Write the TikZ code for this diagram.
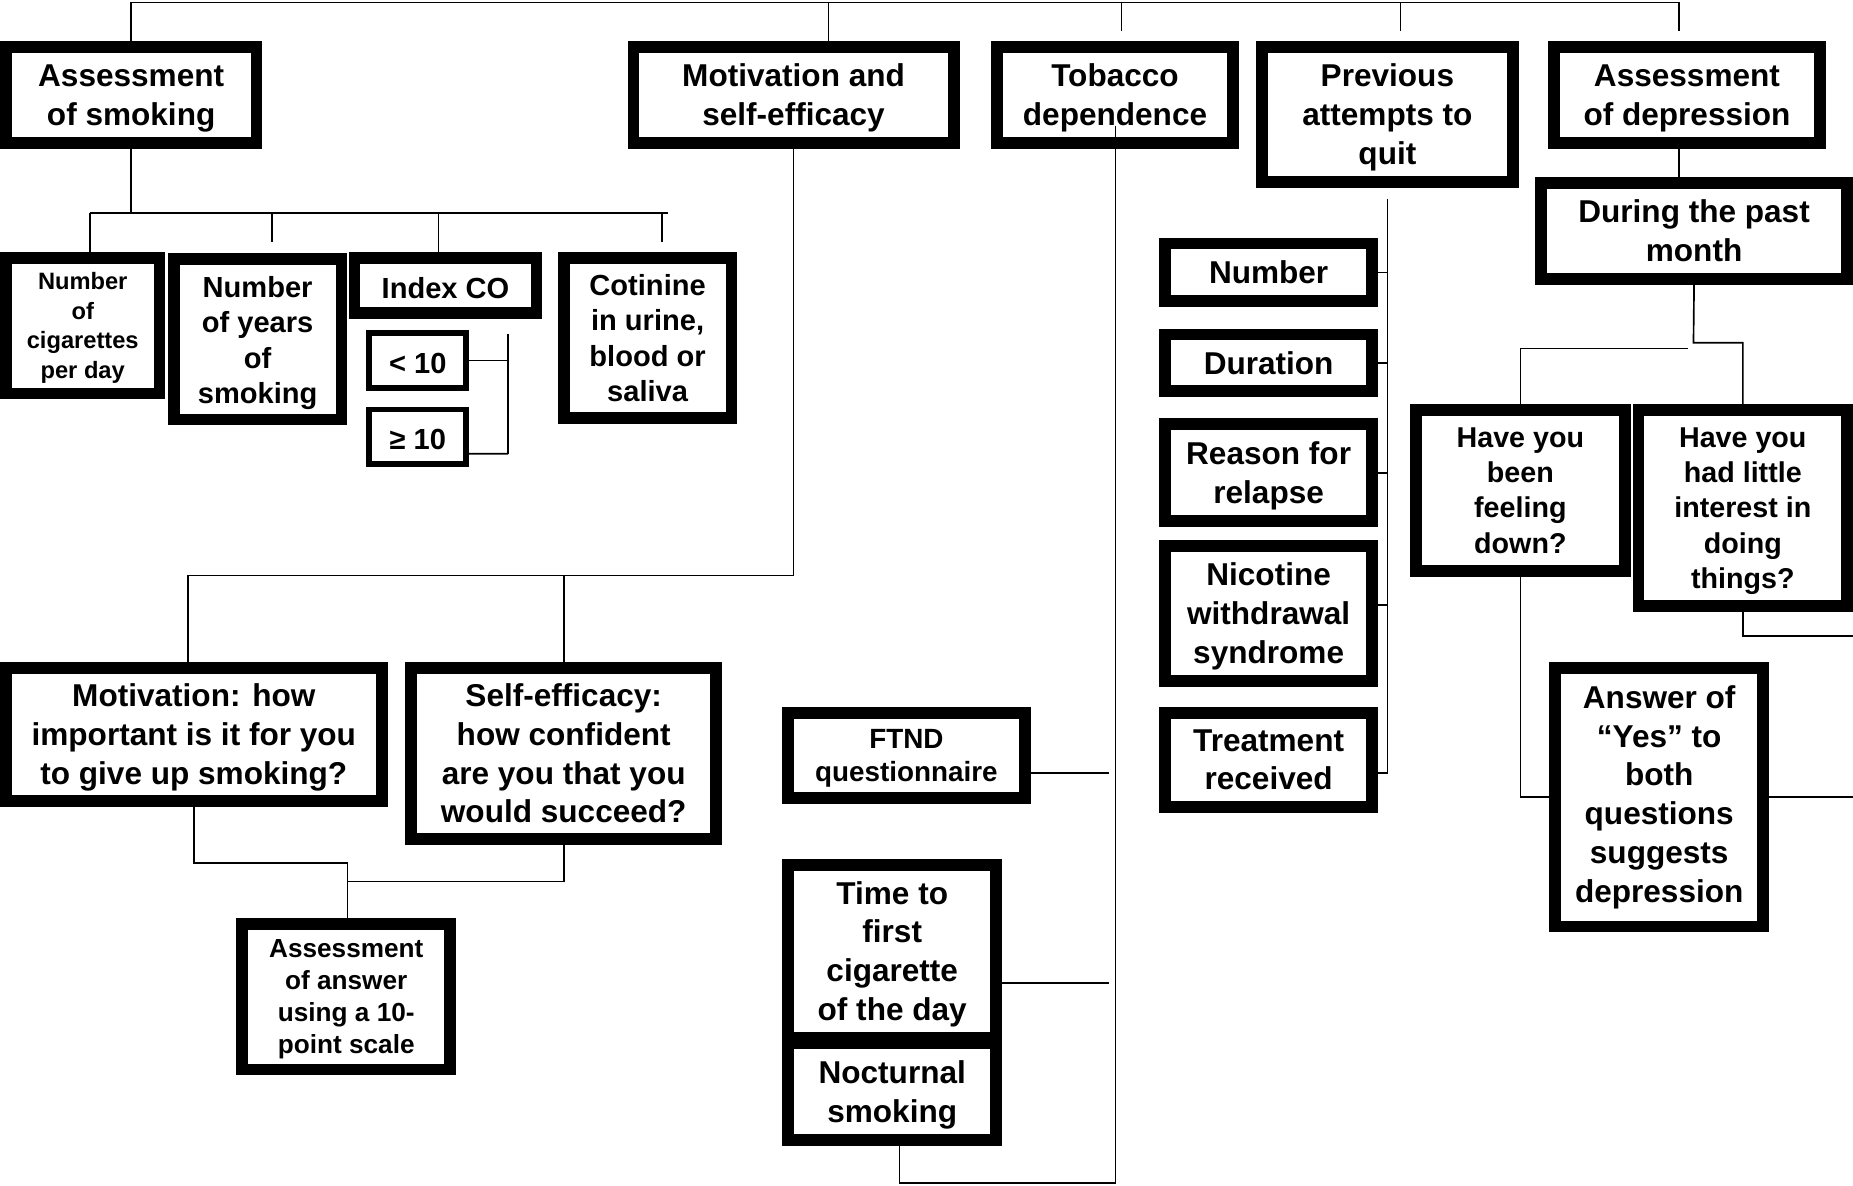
\documentclass[tikz,border=0pt]{standalone}
\usepackage{fontspec}
\setmainfont{Liberation Sans}
\usepackage{tikz}

% strut that gives the first line the full ascent of the font
\newcommand{\capstrut}[1][0.905em]{\rule{0pt}{#1}}

\begin{document}
\begin{tikzpicture}[
    every node/.style={align=center, inner sep=0pt, font=\bfseries\fontsize{7.6}{9.35}\selectfont},
    box/.style={draw, fill=white, line width=#1},
    box/.default=0.1cm,
    link/.style={line width=0.4pt}
]

\useasboundingbox (0,0) rectangle (15.68,-10.03);

% Top row of assessment topics
\node[box, minimum width=2.12cm, minimum height=0.81cm] (smoking) at (1.11,-0.805) {\capstrut Assessment\\of smoking};
\node[box, minimum width=2.71cm, minimum height=0.81cm] (motiv) at (6.715,-0.805) {\capstrut Motivation and\\self-efficacy};
\node[box, minimum width=2.00cm, minimum height=0.81cm] (tobacco) at (9.435,-0.805) {\capstrut Tobacco\\dependence};
\node[box, minimum width=2.12cm, minimum height=1.14cm] (previous) at (11.74,-0.97) {\capstrut Previous\\attempts to\\quit};
\node[box, minimum width=2.25cm, minimum height=0.81cm] (depression) at (14.275,-0.805) {\capstrut Assessment\\of depression};

% Smoking measures
\node[box, minimum width=1.30cm, minimum height=1.15cm, font=\bfseries\fontsize{5.7}{7.1}\selectfont] (cigs) at (0.70,-2.755) {\capstrut Number\\of\\cigarettes\\per day};
\node[box, minimum width=1.42cm, minimum height=1.36cm, font=\bfseries\fontsize{7}{8.5}\selectfont] (years) at (2.18,-2.87) {\capstrut[1em]Number\\of years\\of\\smoking};
\node[box, minimum width=1.54cm, minimum height=0.47cm, font=\bfseries\fontsize{7}{8.5}\selectfont] (indexco) at (3.77,-2.415) {\capstrut Index CO};
\node[box=0.05cm, minimum width=0.82cm, minimum height=0.47cm, font=\bfseries\fontsize{7}{8.5}\selectfont] (lt10) at (3.535,-3.05) {\capstrut< 10};
\node[box=0.05cm, minimum width=0.82cm, minimum height=0.46cm, font=\bfseries\fontsize{7}{8.5}\selectfont] (ge10) at (3.535,-3.695) {\capstrut≥ 10};
\node[box, minimum width=1.42cm, minimum height=1.36cm, font=\bfseries\fontsize{7}{8.5}\selectfont] (cotinine) at (5.48,-2.86) {Cotinine\\in urine,\\blood or\\saliva};

% Motivation and self-efficacy questions
\node[box, minimum width=3.18cm, minimum height=1.13cm] (importance) at (1.64,-6.215) {\capstrut Motivation: how\\important is it for you\\to give up smoking?};
\node[box, minimum width=2.58cm, minimum height=1.45cm] (efficacy) at (4.77,-6.375) {Self-efficacy:\\how confident\\are you that you\\would succeed?};
\node[box, minimum width=1.76cm, minimum height=1.23cm, font=\bfseries\fontsize{6.3}{7.7}\selectfont] (scale) at (2.93,-8.435) {\capstrut Assessment\\of answer\\using a 10-\\point scale};

% Tobacco dependence measures
\node[box, minimum width=2.00cm, minimum height=0.72cm, font=\bfseries\fontsize{6.7}{8}\selectfont] (ftnd) at (7.67,-6.39) {\capstrut FTND\\questionnaire};
\node[box, minimum width=1.76cm, minimum height=1.46cm] (firstcig) at (7.55,-8.05) {\capstrut Time to\\first\\cigarette\\of the day};
\node[box, minimum width=1.76cm, minimum height=0.82cm] (nocturnal) at (7.55,-9.24) {\capstrut Nocturnal\\smoking};

% Previous quit attempts
\node[box, minimum width=1.75cm, minimum height=0.49cm] (number) at (10.735,-2.305) {Number};
\node[box, minimum width=1.75cm, minimum height=0.48cm] (duration) at (10.735,-3.07) {Duration};
\node[box, minimum width=1.75cm, minimum height=0.82cm] (relapse) at (10.735,-4.00) {\capstrut Reason for\\relapse};
\node[box, minimum width=1.75cm, minimum height=1.14cm] (withdrawal) at (10.735,-5.19) {\capstrut Nicotine\\withdrawal\\syndrome};
\node[box, minimum width=1.75cm, minimum height=0.80cm] (treatment) at (10.735,-6.43) {Treatment\\received};

% Depression screening
\node[box, minimum width=2.59cm, minimum height=0.81cm] (during) at (14.335,-1.955) {During the past\\month};
\node[box, minimum width=1.77cm, minimum height=1.36cm, font=\bfseries\fontsize{6.9}{8.5}\selectfont] (feeling) at (12.865,-4.15) {Have you\\been\\feeling\\down?};
\node[box, minimum width=1.765cm, minimum height=1.656cm, font=\bfseries\fontsize{6.9}{8.5}\selectfont] (interest) at (14.7475,-4.298) {\capstrut Have you\\had little\\interest in\\doing\\things?};
\node[box, minimum width=1.76cm, minimum height=2.19cm] (answer) at (14.04,-6.745) {Answer of\\``Yes'' to\\both\\questions\\suggests\\depression};

% Top bar
\foreach \name/\x in {smoking/1.11, motiv/7.01, tobacco/9.49, previous/11.85, depression/14.21}
    \coordinate (top-\name) at (\x,-0.02);
\draw[link] (top-smoking) -- (top-depression);
\draw[link] (top-smoking) -- (smoking.north);
\draw[link] (top-motiv) -- (top-motiv |- motiv.north);
\foreach \name in {tobacco, previous, depression}
    \draw[link] (top-\name) -- ++(0,-0.24);

% Smoking branches
\coordinate (smk-bar) at (0.76,-1.80);
\draw[link] (smoking.south) -- (smoking.south |- smk-bar);
\draw[link] (smk-bar) -- ++(4.89,0);
\draw[link] (smk-bar) -- (smk-bar |- cigs.north);
\draw[link] ([xshift=-0.06cm]indexco.north) -- ([xshift=-0.06cm]indexco.north |- smk-bar);
\draw[link] ([xshift=1.54cm]smk-bar) -- ++(0,-0.25);
\draw[link] ([xshift=4.84cm]smk-bar) -- ++(0,-0.25);

% Index CO bracket
\coordinate (co-top) at (4.30,-2.83);
\coordinate (co-bot) at (4.30,-3.84);
\draw[link] (co-top) -- (co-bot);
\draw[link] (lt10.east) -- (lt10.east -| co-top);
\draw[link] ([yshift=-0.145cm]ge10.east) -- (co-bot);

% Motivation branches
\coordinate (motiv-bar) at (1.59,-4.87);
\draw[link] (motiv.south) |- (motiv-bar) -- (motiv-bar |- importance.north);
\draw[link] (efficacy.north) -- (efficacy.north |- motiv-bar);

% Both questions into the scale
\coordinate (scale-join) at (2.94,-7.30);
\draw[link] (importance.south) |- (scale-join) -- (scale-join |- scale.north);
\draw[link] (efficacy.south) |- ([yshift=-0.16cm]scale-join);

% Tobacco dependence stem
\coordinate (tob-top) at (9.44,-1.07);
\coordinate (tob-bottom) at (9.44,-10.01);
\coordinate (tob-stem) at (9.38,0);
\draw[link] (tob-top) -- (tob-bottom);
\draw[link] ([yshift=-0.15cm]ftnd.east) -- ([yshift=-0.15cm]ftnd.east -| tob-stem);
\draw[link] ([yshift=-0.27cm]firstcig.east) -- ([yshift=-0.27cm]firstcig.east -| tob-stem);
\draw[link] ([xshift=0.06cm]nocturnal.south) |- (tob-bottom);

% Previous attempts stem
\coordinate (prev-stem) at (11.74,-1.68);
\draw[link] (prev-stem) |- ([yshift=-0.11cm]treatment.east);
\foreach \n in {number, duration, relapse}
    \draw[link] (\n.east) -- (\n.east -| prev-stem);
\draw[link] ([yshift=0.07cm]withdrawal.east) -- ([yshift=0.07cm]withdrawal.east -| prev-stem);

% Depression branches
\draw[link] (top-depression |- depression.south) -- (top-depression |- during.north);
\coordinate (dep-split) at (14.33,-2.90);
\coordinate (dep-left) at (14.28,-2.95);
\draw[link] (during.south) -- (dep-split) -| (interest.north);
\draw[link] (dep-left) -| (feeling.north);
\draw[link] (feeling.south) |- (answer.west);
\coordinate (edge-interest) at (15.68,-5.38);
\coordinate (edge-answer) at (15.68,-6.745);
\draw[link] (interest.south) |- (edge-interest);
\draw[link] (answer.east) -- (edge-answer);

\end{tikzpicture}
\end{document}
